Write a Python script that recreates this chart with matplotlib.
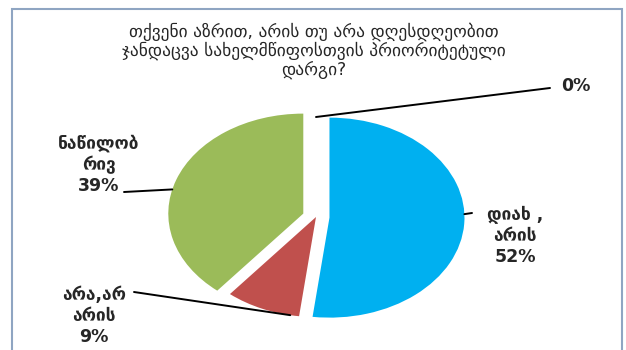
import numpy as np
import matplotlib.pyplot as plt
from matplotlib.patches import Rectangle

# survey answers, clockwise from 12 o'clock
labels = ["დიახ ,\nარის\n52%", "არა,არ\nარის\n9%", "ნაწილობ\nრივ\n39%", "0%"]
values = [52, 9, 39, 0]
colors = ["#00B0F0", "#C0504D", "#9BBB59", "#4BACC6"]
explode = [0.1, 0.0, 0.1, 0.0]

title = ("თქვენი აზრით, არის თუ არა დღესდღეობით\n"
         "ჯანდაცვა სახელმწიფოსთვის პრიორიტეტული\n"
         "დარგი?")

W, H = 626, 350
fig = plt.figure(figsize=(W / 100, H / 100), dpi=100)
fig.patch.set_facecolor("white")


def px(x, y):
    # pixel position measured from the top-left corner -> figure fraction
    return x / W, 1 - y / H


# pie centre and radii in pixels (the pie is drawn stretched sideways)
cx, cy, rx, ry = 316, 217, 135, 100
ax = fig.add_axes([0, 0, 1, 1])
ax.pie(values, colors=colors, explode=explode, startangle=90,
       counterclock=False, radius=1, wedgeprops=dict(linewidth=0))
ax.set_aspect("auto")
ax.set_xlim(-cx / rx, (W - cx) / rx)
ax.set_ylim(-(H - cy) / ry, cy / ry)
ax.axis("off")

# frame around the chart
fig.add_artist(Rectangle(px(12, 360), 610 / W, 351 / H, transform=fig.transFigure,
                         fill=False, edgecolor="#8FA5C2", linewidth=1.5))

fig.text(*px(314, 51), title, ha="center", va="center", fontsize=12.5,
         linespacing=1.05, color="#262626")

# label text positions, leader line starts (pixels) and where each
# leader touches its slice (degrees on the slice's own arc)
text_pos = [(515, 236), (94, 316), (99, 165), (576, 86)]
line_start = [(472, 213), (134, 292), (124, 192), (550, 88)]
tip_angle = [2, -101, 166, 90]

cum = np.cumsum([0] + values[:-1])
for i, v in enumerate(values):
    mid = np.deg2rad(90 - (cum[i] + v / 2) * 3.6)
    ox, oy = explode[i] * np.cos(mid), explode[i] * np.sin(mid)
    a = np.deg2rad(tip_angle[i])
    tip = (ox + np.cos(a), oy + np.sin(a))
    fig.text(*px(*text_pos[i]), labels[i], ha="center", va="center",
             fontsize=12.5, fontweight="bold", linespacing=1.2, color="#262626")
    sx, sy = line_start[i]
    ax.annotate("", xy=tip, xytext=((sx - cx) / rx, (cy - sy) / ry),
                arrowprops=dict(arrowstyle="-", color="black", lw=1.4,
                                shrinkA=0, shrinkB=0))

fig.savefig("out.png", dpi=100)
